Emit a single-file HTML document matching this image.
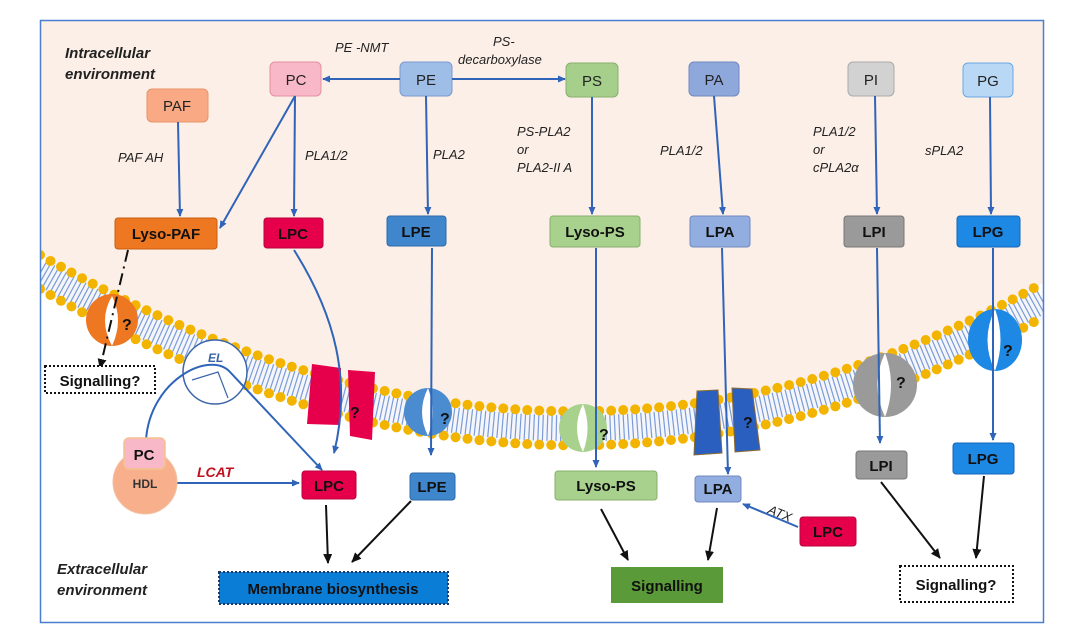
<!DOCTYPE html>
<html><head><meta charset="utf-8"><style>
html,body{margin:0;padding:0;background:#fff;}
svg{display:block;font-family:"Liberation Sans",sans-serif;}
.b{font-weight:bold;font-size:15px;text-anchor:middle;fill:#111;}
.n{font-size:15px;text-anchor:middle;fill:#222;}
.i{font-style:italic;font-size:13px;fill:#222;}
.h{font-style:italic;font-weight:bold;font-size:15px;fill:#222;}
.q{font-weight:bold;font-size:16px;fill:#111;}
</style></head><body>
<svg width="1080" height="632" viewBox="0 0 1080 632" xmlns="http://www.w3.org/2000/svg">
<defs>
<marker id="ab" markerWidth="8" markerHeight="8" refX="7" refY="4" orient="auto" markerUnits="userSpaceOnUse"><path d="M0,0.5 L8,4 L0,7.5 Z" fill="#2f64b8"/></marker>
<marker id="ak" markerWidth="10" markerHeight="10" refX="9" refY="5" orient="auto" markerUnits="userSpaceOnUse"><path d="M0,0.5 L10,5 L0,9.5 Z" fill="#111"/></marker>
<clipPath id="fr"><rect x="41" y="21" width="1002" height="601"/></clipPath>
</defs>
<rect x="0" y="0" width="1080" height="632" fill="#fff"/>
<path d="M40,20 H1043 V283 Q560,553 40,255 Z" fill="#fcefe7"/>
<!-- membrane -->
<g clip-path="url(#fr)">
<path d="M40,272 Q560,570 1043,300" fill="none" stroke="#f4f6fb" stroke-width="34"/>
<path d="M40,272 Q560,570 1043,300" fill="none" stroke="#7b9bd6" stroke-width="26" stroke-dasharray="1.2 3.3"/>
<path d="M40,255 Q560,553 1043,283" fill="none" stroke="#f3b400" stroke-width="10" stroke-linecap="round" stroke-dasharray="0 12"/>
<path d="M40,289 Q560,587 1043,317" fill="none" stroke="#f3b400" stroke-width="10" stroke-linecap="round" stroke-dasharray="0 12"/>
</g>
<rect x="40.5" y="20.5" width="1003" height="602" fill="none" stroke="#4a7fcf" stroke-width="1.5"/>

<!-- channels -->
<circle cx="112" cy="320" r="26" fill="#ee7722"/>
<path d="M112,296 Q98,320 112,346 Q124,320 112,296 Z" fill="#fff"/>
<text x="122" y="330" class="q">?</text>
<circle cx="215" cy="372" r="32" fill="#fff" stroke="#3c64a8" stroke-width="1.5"/>
<text x="208" y="362" font-size="12" font-style="italic" font-weight="bold" fill="#3c64a8">EL</text>
<path d="M192,380 L218,372 L228,398" fill="none" stroke="#3c64a8" stroke-width="1.2"/>
<path d="M312,364 L341,368 L340,425 L307,424 Z" fill="#e6004c"/>
<path d="M348,370 L375,372 L372,440 L350,436 Z" fill="#e6004c"/>
<text x="350" y="418" class="q">?</text>
<circle cx="428" cy="412" r="24" fill="#4b8bd0"/>
<path d="M428,388 Q416,412 428,436 Q437,412 428,388 Z" fill="#fff"/>
<text x="440" y="424" class="q">?</text>
<circle cx="583" cy="428" r="24" fill="#a9d18e"/>
<path d="M583,404 Q571,428 583,452 Q592,428 583,404 Z" fill="#fff"/>
<text x="599" y="440" class="q">?</text>
<path d="M697,391 L718,390 L722,453 L694,455 Z" fill="#2a5fbf" stroke="#8a6a30" stroke-width="1"/>
<path d="M732,388 L752,389 L760,450 L735,452 Z" fill="#2a5fbf" stroke="#8a6a30" stroke-width="1"/>
<text x="743" y="428" class="q">?</text>
<circle cx="885" cy="385" r="32" fill="#9a9a9a"/>
<path d="M885,353 Q870,385 885,417 Q897,385 885,353 Z" fill="#fff"/>
<text x="896" y="388" class="q">?</text>
<ellipse cx="995" cy="340" rx="27" ry="31" fill="#1e88e5"/>
<path d="M995,309 Q980,340 995,371 Q1006,340 995,309 Z" fill="#fff"/>
<text x="1003" y="356" class="q">?</text>

<!-- headers -->
<text x="65" y="58" class="h">Intracellular</text>
<text x="65" y="79" class="h">environment</text>
<text x="57" y="574" class="h">Extracellular</text>
<text x="57" y="595" class="h">environment</text>

<!-- top boxes -->
<g stroke-width="1">
<rect x="270" y="62" width="51" height="34" rx="5" fill="#f9b8c8" stroke="#e4909f"/>
<rect x="400" y="62" width="52" height="34" rx="5" fill="#9ebde7" stroke="#7a9ad0"/>
<rect x="566" y="63" width="52" height="34" rx="5" fill="#a6cf8c" stroke="#86b06c"/>
<rect x="689" y="62" width="50" height="34" rx="5" fill="#8fa8dc" stroke="#7088c0"/>
<rect x="848" y="62" width="46" height="34" rx="5" fill="#d2d2d2" stroke="#aaa"/>
<rect x="963" y="63" width="50" height="34" rx="5" fill="#b9d8f5" stroke="#6aa8e6"/>
<rect x="147" y="89" width="61" height="33" rx="5" fill="#f9aa84" stroke="#e8946a"/>
</g>
<text x="296" y="85" class="n">PC</text>
<text x="426" y="85" class="n">PE</text>
<text x="592" y="86" class="n">PS</text>
<text x="714" y="85" class="n">PA</text>
<text x="871" y="85" class="n">PI</text>
<text x="988" y="86" class="n">PG</text>
<text x="177" y="111" class="n">PAF</text>

<!-- lyso boxes -->
<rect x="115" y="218" width="102" height="31" rx="3" fill="#ee7722" stroke="#c85f10"/>
<rect x="264" y="218" width="59" height="30" rx="3" fill="#e6004c" stroke="#b8003c"/>
<rect x="387" y="216" width="59" height="30" rx="3" fill="#3f86cc" stroke="#2e6aa8"/>
<rect x="550" y="216" width="90" height="31" rx="3" fill="#a9d18e" stroke="#86b06c"/>
<rect x="690" y="216" width="60" height="31" rx="3" fill="#92aee0" stroke="#7088c0"/>
<rect x="844" y="216" width="60" height="31" rx="3" fill="#9a9a9a" stroke="#777"/>
<rect x="957" y="216" width="63" height="31" rx="3" fill="#1e88e5" stroke="#1466b8"/>
<text x="166" y="239" class="b">Lyso-PAF</text>
<text x="293" y="239" class="b">LPC</text>
<text x="416" y="237" class="b">LPE</text>
<text x="595" y="237" class="b">Lyso-PS</text>
<text x="720" y="237" class="b">LPA</text>
<text x="874" y="237" class="b">LPI</text>
<text x="988" y="237" class="b">LPG</text>

<!-- enzyme labels -->
<text x="335" y="52" class="i">PE -NMT</text>
<text x="493" y="46" class="i">PS-</text>
<text x="458" y="64" class="i">decarboxylase</text>
<text x="118" y="162" class="i">PAF AH</text>
<text x="305" y="160" class="i">PLA1/2</text>
<text x="433" y="159" class="i">PLA2</text>
<text x="517" y="136" class="i">PS-PLA2</text>
<text x="517" y="154" class="i">or</text>
<text x="517" y="172" class="i">PLA2-II A</text>
<text x="660" y="155" class="i">PLA1/2</text>
<text x="813" y="136" class="i">PLA1/2</text>
<text x="813" y="154" class="i">or</text>
<text x="813" y="172" class="i">cPLA2α</text>
<text x="925" y="155" class="i">sPLA2</text>

<!-- blue arrows -->
<g stroke="#2f64b8" stroke-width="2" fill="none" marker-end="url(#ab)">
<line x1="400" y1="79" x2="323" y2="79"/>
<line x1="452" y1="79" x2="565" y2="79"/>
<line x1="178" y1="122" x2="180" y2="216"/>
<line x1="295" y1="96" x2="294" y2="216"/>
<line x1="295" y1="96" x2="220" y2="228"/>
<line x1="426" y1="96" x2="428" y2="214"/>
<line x1="592" y1="97" x2="592" y2="214"/>
<line x1="714" y1="96" x2="723" y2="214"/>
<line x1="875" y1="96" x2="877" y2="214"/>
<line x1="990" y1="97" x2="991" y2="214"/>
<path d="M294,250 C335,315 352,380 334,453"/>
<line x1="432" y1="248" x2="431" y2="455"/>
<line x1="596" y1="248" x2="596" y2="467"/>
<line x1="722" y1="248" x2="728" y2="474"/>
<line x1="877" y1="248" x2="880" y2="443"/>
<line x1="993" y1="248" x2="993" y2="440"/>
<path d="M146,440 C150,380 210,350 230,372 L322,470"/>
<line x1="176" y1="483" x2="299" y2="483"/>
<line x1="798" y1="527" x2="743" y2="504"/>
</g>
<text x="197" y="477" font-size="14" font-style="italic" font-weight="bold" fill="#c0101e">LCAT</text>
<text x="767" y="513" class="i" transform="rotate(22 767 513)">ATX</text>
<path d="M128,250 L100,368" stroke="#111" stroke-width="2" fill="none" stroke-dasharray="12 5 2 5" marker-end="url(#ak)"/>

<!-- extracellular items -->
<circle cx="145" cy="482" r="32" fill="#f8b08c" stroke="#f0c0a0"/>
<rect x="124" y="438" width="41" height="31" rx="5" fill="#f9b8c8" stroke="#f3c28e" stroke-width="1.5"/>
<text x="144" y="460" class="b">PC</text>
<text x="145" y="488" font-size="12" font-weight="bold" text-anchor="middle" fill="#333">HDL</text>
<rect x="302" y="471" width="54" height="28" rx="3" fill="#e6004c" stroke="#b8003c"/>
<text x="329" y="491" class="b">LPC</text>
<rect x="410" y="473" width="45" height="27" rx="3" fill="#3f86cc" stroke="#2e6aa8"/>
<text x="432" y="492" class="b" font-size="13">LPE</text>
<rect x="555" y="471" width="102" height="29" rx="3" fill="#a9d18e" stroke="#86b06c"/>
<text x="606" y="491" class="b">Lyso-PS</text>
<rect x="695" y="476" width="46" height="26" rx="3" fill="#92aee0" stroke="#7088c0"/>
<text x="718" y="494" class="b" font-size="13">LPA</text>
<rect x="800" y="517" width="56" height="29" rx="3" fill="#e6004c" stroke="#b8003c"/>
<text x="828" y="537" class="b">LPC</text>
<rect x="856" y="451" width="51" height="28" rx="3" fill="#9a9a9a" stroke="#777"/>
<text x="881" y="471" class="b">LPI</text>
<rect x="953" y="443" width="61" height="31" rx="3" fill="#1e88e5" stroke="#1466b8"/>
<text x="983" y="464" class="b">LPG</text>

<!-- black arrows -->
<g stroke="#111" stroke-width="2" fill="none" marker-end="url(#ak)">
<line x1="326" y1="505" x2="328" y2="563"/>
<line x1="411" y1="501" x2="352" y2="562"/>
<line x1="601" y1="509" x2="628" y2="560"/>
<line x1="717" y1="508" x2="708" y2="560"/>
<line x1="881" y1="482" x2="940" y2="558"/>
<line x1="984" y1="476" x2="976" y2="558"/>
</g>

<!-- result boxes -->
<rect x="219" y="572" width="229" height="32" fill="#0a7ed6" stroke="#1a3a6a" stroke-width="2" stroke-dasharray="2 2"/>
<text x="333" y="594" class="b">Membrane biosynthesis</text>
<rect x="611" y="567" width="112" height="36" fill="#5a9a38"/>
<text x="667" y="591" class="b">Signalling</text>
<rect x="900" y="566" width="113" height="36" fill="#fff" stroke="#111" stroke-width="2" stroke-dasharray="2 2"/>
<text x="956" y="590" class="b">Signalling?</text>
<rect x="45" y="366" width="110" height="27" fill="#fff" stroke="#111" stroke-width="2" stroke-dasharray="2 2"/>
<text x="100" y="386" class="b">Signalling?</text>
</svg>
</body></html>
